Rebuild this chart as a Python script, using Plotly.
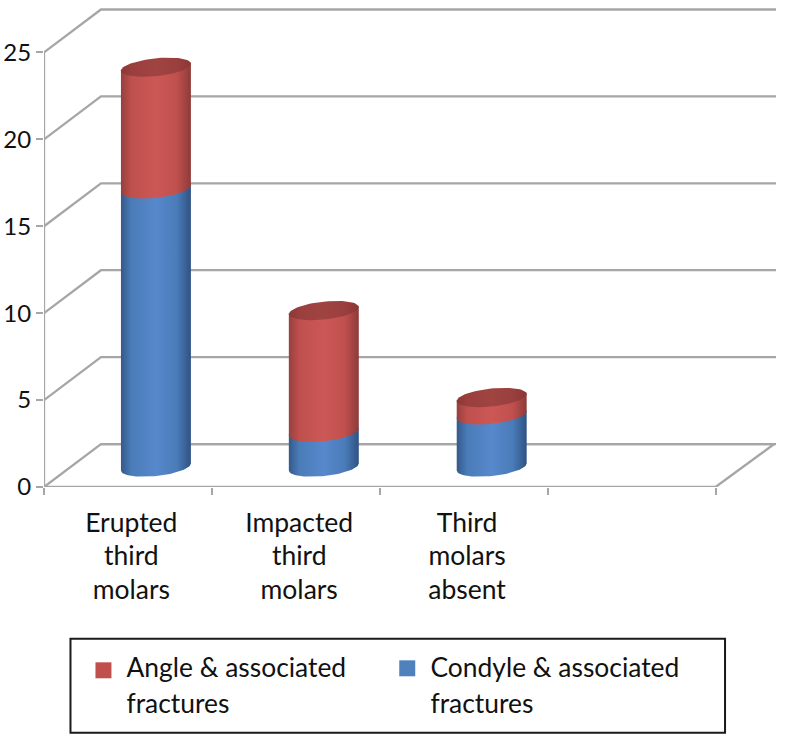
import numpy as np
import plotly.graph_objects as go

categories = ["Erupted<br>third<br>molars", "Impacted<br>third<br>molars", "Third<br>molars<br>absent"]
condyle = [16, 2, 3]
angle = [7, 7, 1]
y_ticks = [0, 5, 10, 15, 20, 25]
legend_names = ["Angle & associated<br>fractures", "Condyle & associated<br>fractures"]

RED = "#c0504d"
BLUE = "#4f81bd"
GRID = "#a6a6a6"

# plot geometry (axis units)
PXX, PXY = 168.0, 17.4
L, R, T, B = 43.5, 10, 5, 247.5
XMAX = (786 - L - R) / PXX
YMAX = (735 - T - B) / PXY
DX, DY = 57 / PXX, 43 / PXY          # wall depth
BAR_OFF, BAR_BASE = 28 / PXX, 20 / PXY
RX, RY, SK = 35 / PXX, 9 / PXY, 3.5 / PXY
SEAM = 0.08


def arc(cx, level, t):
    cy = level + BAR_BASE
    return cx + RX * np.cos(t), cy - RY * np.sin(t) + SK * np.cos(t)


def grad(c_edge, c_mid, c_mid2, c_edge2):
    return dict(type="horizontal",
                colorscale=[[0, c_edge], [0.15, c_mid2], [0.5, c_mid], [0.8, c_mid2], [1, c_edge2]])


GR_RED = grad("#96403e", "#cc5856", "#bf504d", "#8e3b39")
GR_BLUE = grad("#35598a", "#5688cc", "#4a7cb9", "#2f5283")
GR_CAP = grad("#8c3836", "#a04442", "#9a3f3d", "#8c3836")

fig = go.Figure()


def line(x, y, width=2.3):
    fig.add_trace(go.Scatter(x=x, y=y, mode="lines", line=dict(color=GRID, width=width),
                             showlegend=False, hoverinfo="skip", cliponaxis=False))


line([0, 0], [y_ticks[0], y_ticks[-1]])
for v in y_ticks:
    line([0, DX, XMAX], [v, v + DY, v + DY])
line([0, 4, 4 + DX * 1.03, DX], [0, 0, DY, DY])


def seg(cx, lo, hi, gradient):
    t_low = np.linspace(np.pi, 0, 40)    # front arc, left to right
    t_up = np.linspace(0, np.pi, 40)
    x1, y1 = arc(cx, lo, t_low)
    x2, y2 = arc(cx, hi + SEAM, t_up)
    fig.add_trace(go.Scatter(x=np.r_[x1, x2, x1[0]], y=np.r_[y1, y2, y1[0]], mode="lines",
                             fill="toself", fillgradient=gradient, line=dict(width=0),
                             showlegend=False, hoverinfo="skip"))


for i, (b, r) in enumerate(zip(condyle, angle)):
    cx = i + 0.5 + BAR_OFF
    seg(cx, 0, b, GR_BLUE)
    seg(cx, b, b + r, GR_RED)
    t = np.linspace(0, 2 * np.pi, 80)
    xc, yc = arc(cx, b + r, t)
    fig.add_trace(go.Scatter(x=xc, y=yc, mode="lines", fill="toself", fillgradient=GR_CAP,
                             line=dict(width=0), showlegend=False, hoverinfo="skip"))

W = 786 - L - R
H = 735 - T - B
px = lambda v: (v - L) / W
py = lambda v: (487.5 - v) / H

for name, col, sx, sy in zip(legend_names, [RED, BLUE], [103, 407], [671, 669]):
    fig.add_trace(go.Scatter(x=[None], y=[None], mode="markers", name=f'<span style="font-size:26.4px">{name}</span>',
                             marker=dict(symbol="line-ew", size=1, color=col, line=dict(width=0, color=col))))
    fig.add_shape(type="rect", xref="paper", yref="paper", x0=px(sx - 8), x1=px(sx + 8),
                  y0=py(sy + 8), y1=py(sy - 8), fillcolor=col, line=dict(width=0))

fig.add_shape(type="rect", xref="paper", yref="paper",
              x0=px(70), x1=px(725), y0=py(733.5), y1=py(639.5),
              line=dict(color="#1a1a1a", width=2), fillcolor="rgba(0,0,0,0)")

fig.update_layout(
    width=786, height=735, autosize=False, paper_bgcolor="white", plot_bgcolor="white",
    margin=dict(l=L, r=R, t=T, b=B, pad=0, autoexpand=False),
    font=dict(family="Lato", color="#111111"),
    legend=dict(orientation="h", x=px(86), y=py(643.5), xanchor="left", yanchor="top",
                font=dict(size=27), entrywidth=259, entrywidthmode="pixels",
                bgcolor="rgba(0,0,0,0)", tracegroupgap=0),
    xaxis=dict(range=[0, XMAX], showgrid=False, zeroline=False, showline=False, automargin=False,
               tickmode="array", tickvals=[i + 0.52 for i in range(len(categories))],
               ticktext=[f'<span style="font-size:26.5px">{c}</span>' for c in categories],
               ticks="", tickfont=dict(size=25.8), ticklabelstandoff=18,
               minor=dict(tickmode="array", tickvals=[0, 1, 2, 3, 4], ticks="outside", ticklen=7,
                          tickcolor=GRID, tickwidth=2)),
    yaxis=dict(range=[0, YMAX], showgrid=False, zeroline=False, showline=False,
               automargin=False,
               tickmode="array", tickvals=y_ticks, ticks="outside", ticklen=7, tickcolor=GRID, tickwidth=2,
               tickfont=dict(size=24)),
)
fig.write_html("out.html", config={"displayModeBar": False},
               post_script="document.body.style.margin='0';")
